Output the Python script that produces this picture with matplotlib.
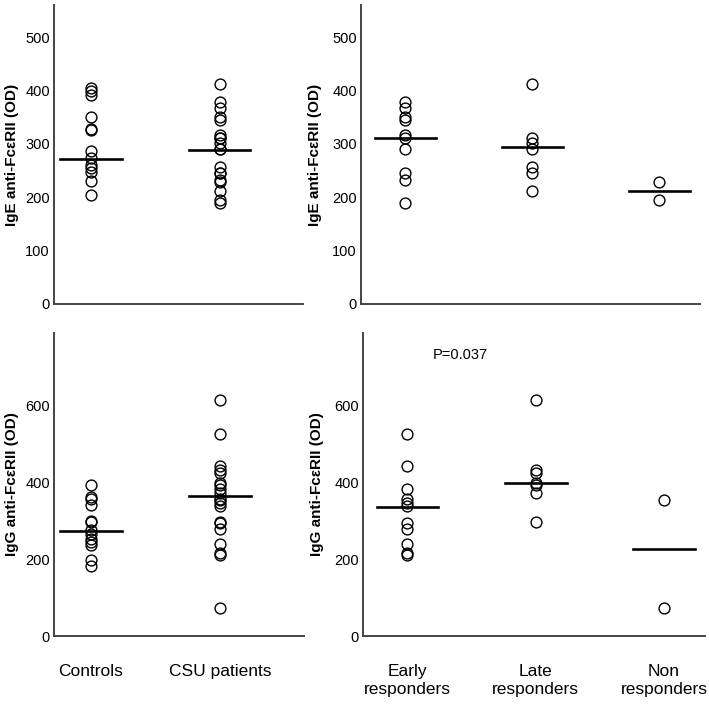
import matplotlib
matplotlib.use("Agg")
import matplotlib.pyplot as plt

plt.rcParams['font.family'] = ['Liberation Sans', 'DejaVu Sans']

# IgE anti-FceRII (OD)
ige_controls = [404, 398, 392, 350, 328, 325, 286, 273, 260, 254, 248, 231, 205]
ige_csu = [412, 378, 367, 351, 345, 316, 310, 310, 301, 291, 290, 257, 246, 245, 233, 228, 211, 194, 190]
ige_early = [378, 367, 351, 345, 316, 310, 290, 246, 233, 190]
ige_late = [412, 310, 301, 291, 257, 245, 211]
ige_non = [228, 194]

# IgG anti-FceRII (OD)
igg_controls = [394, 363, 356, 341, 301, 297, 277, 267, 254, 245, 237, 197, 183]
igg_csu = [615, 527, 442, 433, 426, 399, 395, 382, 374, 356, 355, 348, 339, 298, 294, 279, 241, 217, 211, 74]
igg_early = [527, 442, 382, 356, 348, 339, 294, 279, 241, 217, 211]
igg_late = [615, 433, 426, 399, 395, 374, 298]
igg_non = [355, 74]

# horizontal bars as drawn in the figure
ige_group_lines = [271, 288]
ige_resp_lines = [310, 294, 211]
igg_group_lines = [275, 365]
igg_resp_lines = [337, 399, 226]

group_labels = ["Controls", "CSU patients"]
resp_labels = ["Early\nresponders", "Late\nresponders", "Non\nresponders"]

ige_label = "IgE anti-Fc\u03b5RII (OD)"
igg_label = "IgG anti-Fc\u03b5RII (OD)"

fig = plt.figure(figsize=(7.09, 7.04), dpi=100)

W, H = 709, 704
def add_ax(l, r, t, b):
    return fig.add_axes([l / W, (H - b) / H, (r - l) / W, (b - t) / H])

ax_tl = add_ax(54, 303, 5, 304)
ax_tr = add_ax(361, 700, 5, 304)
ax_bl = add_ax(54, 304, 333, 636)
ax_br = add_ax(363, 705, 333, 636)


def panel(ax, groups, lines, ylim, yticks, ylabel, labelx, xlim, xlabels=None):
    for i, vals in enumerate(groups):
        ax.plot([i] * len(vals), vals, 'o', mfc='none', mec='black',
                ms=7.8, mew=1.0, ls='none', clip_on=False)
        ax.plot([i - 0.24, i + 0.24], [lines[i], lines[i]], color='black', lw=1.9)
    ax.set_xlim(*xlim)
    ax.set_ylim(*ylim)
    ax.set_yticks(yticks)
    for s in ['top', 'right']:
        ax.spines[s].set_visible(False)
    for s in ['left', 'bottom']:
        ax.spines[s].set_color('#444444')
        ax.spines[s].set_linewidth(1.4)
    ax.tick_params(axis='y', length=0, pad=3, labelsize=10.5)
    ax.tick_params(axis='x', length=0)
    if xlabels is None:
        ax.set_xticks([])
    else:
        ax.set_xticks(range(len(xlabels)))
        ax.set_xticklabels(xlabels, fontsize=12.5, linespacing=1.3)
        ax.tick_params(axis='x', pad=20)
    ax.set_ylabel(ylabel, fontsize=11, fontweight='bold')
    ax.yaxis.set_label_coords(labelx, 0.5)


left_xlim = (-0.286, 1.648)
right_xlim = (-0.347, 2.32)

panel(ax_tl, [ige_controls, ige_csu], ige_group_lines, (0, 560),
      [0, 100, 200, 300, 400, 500], ige_label, -0.14, left_xlim)
panel(ax_tr, [ige_early, ige_late, ige_non], ige_resp_lines, (0, 560),
      [0, 100, 200, 300, 400, 500], ige_label, -0.115, right_xlim)
panel(ax_bl, [igg_controls, igg_csu], igg_group_lines, (0, 790),
      [0, 200, 400, 600], igg_label, -0.14, left_xlim, group_labels)
panel(ax_br, [igg_early, igg_late, igg_non], igg_resp_lines, (0, 790),
      [0, 200, 400, 600], igg_label, -0.115, right_xlim, resp_labels)

ax_br.text(0.284, 0.927, "P=0.037", transform=ax_br.transAxes,
           ha='center', va='center', fontsize=10.5)

fig.savefig("out.png", dpi=100)
